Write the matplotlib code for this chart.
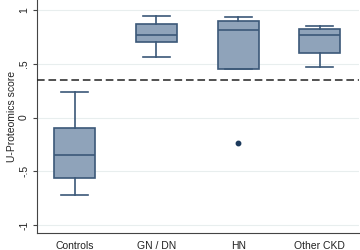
import matplotlib
matplotlib.use("Agg")
import matplotlib.pyplot as plt

categories = ["Controls", "GN / DN", "HN", "Other CKD"]
whislo = [-0.72, 0.563, 0.448, 0.467]
q1 = [-0.56, 0.705, 0.448, 0.603]
med = [-0.35, 0.77, 0.817, 0.765]
q3 = [-0.098, 0.87, 0.90, 0.82]
whishi = [0.24, 0.94, 0.935, 0.851]
fliers = [[], [], [-0.234], []]
threshold = 0.346
yticks = [-1, -0.5, 0, 0.5, 1]
yticklabels = ["-1", "-.5", "0", ".5", "1"]

plt.rcParams['font.family'] = ['Liberation Sans', 'DejaVu Sans']

fig = plt.figure(figsize=(3.6, 2.5), dpi=100)
ax = fig.add_axes([0.102, 0.068, 0.894, 0.932])

stats = []
for i, c in enumerate(categories):
    stats.append(dict(label=c, whislo=whislo[i], q1=q1[i], med=med[i],
                      q3=q3[i], whishi=whishi[i], fliers=fliers[i]))

edge = "#3b5878"
fill = "#8fa3ba"
ax.bxp(stats, positions=range(len(categories)), widths=0.5, capwidths=0.33,
       patch_artist=True, showfliers=True,
       boxprops=dict(facecolor=fill, edgecolor=edge, linewidth=1.2),
       medianprops=dict(color=edge, linewidth=1.2),
       whiskerprops=dict(color=edge, linewidth=1.2),
       capprops=dict(color=edge, linewidth=1.2),
       flierprops=dict(marker='o', markersize=3.2, markerfacecolor="#1c3a5c",
                       markeredgecolor="#1c3a5c"))

ax.axhline(threshold, color="#222222", linestyle=(0, (5, 2.5)), linewidth=1.1, zorder=3)

ax.set_xlim(-0.467, 3.475)
ax.set_ylim(-1.074, 1.093)
ax.set_yticks(yticks)
ax.set_yticklabels(yticklabels, rotation=90, va='center', fontsize=7.5, color="#222222")
ax.set_xticks(range(len(categories)))
ax.set_xticklabels(categories, fontsize=7.5, color="#222222")
ax.tick_params(axis='x', length=0, pad=6)
ax.tick_params(axis='y', length=3, width=0.8, pad=2.5, color="#444444")
ax.set_ylabel("U-Proteomics score", fontsize=7.5, color="#222222", labelpad=1.5)
ax.yaxis.grid(True, color="#e8eeee", linewidth=0.8)
ax.set_axisbelow(True)
for s in ["top", "right"]:
    ax.spines[s].set_visible(False)
for s in ["left", "bottom"]:
    ax.spines[s].set_color("#444444")
    ax.spines[s].set_linewidth(0.8)

fig.savefig("out.png", dpi=100)
